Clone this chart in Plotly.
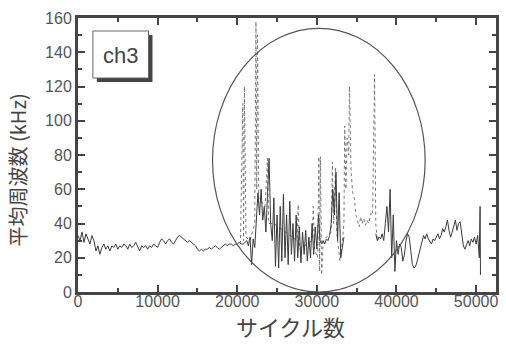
import plotly.graph_objects as go

# ---- data ----
calm_x = list(range(0, 21001, 250))
calm_y = [33, 30, 35, 29, 34, 31, 28, 33, 30,
          24, 27, 22, 26, 28, 25, 27, 24,
          27, 26, 28, 25, 27, 26, 28, 27, 25, 28, 26, 27, 29, 26, 24, 27,
          26, 27, 25, 27, 26, 28, 27, 26,
          29, 31, 30, 28, 30, 31, 29, 28,
          30, 32, 33, 32, 31, 30, 29, 30,
          29, 28, 27, 25, 24, 25, 24, 25,
          25, 26, 25, 26, 27, 26, 25, 26,
          27, 28, 27, 28, 28, 27, 28, 28, 29, 28, 28, 29]

mid_x = [21200, 21400, 21600, 21800, 22000, 22200, 22400, 22600, 22800, 23000,
         23200, 23400, 23600, 23800, 24000, 24200, 24400, 24600, 24800, 25000,
         25200, 25400, 25600, 25800, 26000, 26200, 26400, 26600, 26800, 27000,
         27200, 27400, 27600, 27800, 28000, 28200, 28400, 28600, 28800, 29000,
         29200, 29400, 29600, 29800, 30000, 30200, 30400, 30600, 30800, 31000,
         31200, 31400, 31600, 31800, 32000, 32200, 32400, 32600, 32800, 33000,
         33200, 33400]
mid_y = [30, 27, 32, 16, 31, 26, 40, 58, 45, 60,
         42, 50, 35, 60, 78, 40, 30, 55, 15, 45,
         14, 50, 18, 57, 20, 45, 16, 53, 22, 40,
         18, 45, 20, 38, 17, 35, 22, 36, 18, 32,
         20, 40, 22, 38, 25, 45, 30, 28, 30, 28,
         31, 30, 33, 40, 60, 45, 70, 30, 58, 20,
         25, 32]

late_x = [37400, 37600, 37800, 38000, 38200, 38400, 38600, 38800, 39000, 39200,
          39400, 39600, 39800, 40000, 40200, 40400, 40600, 40800, 41000, 41200,
          41400, 41600, 41800, 42000, 42200, 42400, 42600, 42800, 43000, 43200,
          43400, 43600, 43800, 44000, 44200, 44400, 44600, 44800, 45000, 45200,
          45400, 45600, 45800, 46000, 46200, 46400, 46600, 46800, 47000, 47200,
          47400, 47600, 47800, 48000, 48200, 48400, 48600, 48800, 49000, 49200,
          49400, 49600, 49800, 50000, 50200, 50400, 50500, 50550]
late_y = [34, 30, 32, 31, 34, 30, 40, 50, 35, 60,
          20, 45, 12, 30, 22, 28, 26, 18, 22, 30,
          34, 32, 24, 16, 14, 15, 18, 22, 26, 30,
          33, 31, 34, 31, 29, 28, 31, 30, 32, 34,
          31, 33, 37, 35, 38, 42, 36, 32, 35, 38,
          42, 36, 40, 41, 34, 27, 25, 28, 30, 27,
          31, 29, 32, 28, 33, 20, 50, 10]

dot_x = [20400, 20700, 20800, 20900, 21100, 21600, 22200, 22350, 22450, 22550,
         22700, 23500, 23800, 23950, 24600, 27500, 27650, 27800, 29400, 29550,
         29700, 30100, 30250, 30350, 30450, 30600, 30800, 31800, 31950, 32100,
         32350, 32500, 32900, 33100, 33400, 33500, 33650, 33800, 34000, 34100,
         34300, 34500, 34700, 34900, 35100, 35300, 35500, 35700, 35900, 36100,
         36300, 36500, 36800, 37000, 37250, 37400, 37600, 37800]
dot_y = [28, 110, 30, 120, 32, 30, 40, 158, 60, 150,
         55, 50, 78, 40, 40, 30, 51, 25, 30, 50,
         25, 20, 79, 12, 79, 10, 30, 35, 76, 40,
         73, 35, 18, 25, 40, 97, 60, 90, 80, 120,
         70, 58, 55, 45, 42, 38, 44, 40, 43, 39,
         42, 40, 46, 45, 127, 40, 30, 32]

x_ticks = [0, 10000, 20000, 30000, 40000, 50000]
y_ticks = [0, 20, 40, 60, 80, 100, 120, 140, 160]

solid_x = calm_x + mid_x + [None] + late_x
solid_y = calm_y + mid_y + [None] + late_y

fig = go.Figure()
fig.add_trace(go.Scatter(x=dot_x, y=dot_y, mode="lines",
                         line=dict(color="#777777", width=1, dash="dot"),
                         connectgaps=False, hoverinfo="skip"))
fig.add_trace(go.Scatter(x=solid_x, y=solid_y, mode="lines",
                         line=dict(color="#3a3a3a", width=1),
                         connectgaps=False, hoverinfo="skip"))

L, R, T, B = 78, 7, 18, 54
W, H = 506, 346
pw, ph = W - L - R, H - T - B


def px(xp):
    return (xp - L) / pw


def py(yp):
    return (H - B - yp) / ph


shapes = [
    dict(type="circle", xref="x", yref="y", x0=16900, x1=43600, y0=0, y1=154,
         line=dict(color="#555555", width=1.2)),
    dict(type="rect", xref="paper", yref="paper", x0=px(97), x1=px(153),
         y0=py(82), y1=py(35), fillcolor="#444444", line=dict(width=0)),
    dict(type="rect", xref="paper", yref="paper", x0=px(93), x1=px(149),
         y0=py(78), y1=py(31), fillcolor="white",
         line=dict(color="#666666", width=1)),
]

axis_common = dict(showline=True, linecolor="#444444", linewidth=3,
                   mirror="ticks", ticks="inside", ticklen=7, tickwidth=2,
                   tickcolor="#444444", showgrid=False, zeroline=False,
                   tickfont=dict(family="Liberation Sans, Arial", size=16,
                                 color="#555555"))

fig.update_layout(
    width=W, height=H,
    margin=dict(l=L, r=R, t=T, b=B),
    paper_bgcolor="white", plot_bgcolor="white",
    showlegend=False,
    shapes=shapes,
    xaxis=dict(range=[0, 52500], tickvals=x_ticks,
               ticktext=[str(v) for v in x_ticks],
               ticklabelstandoff=-7,
               minor=dict(dtick=5000, ticks="inside", ticklen=4,
                          tickwidth=2, tickcolor="#444444"),
               **axis_common),
    yaxis=dict(range=[0, 160], tickvals=y_ticks,
               ticktext=[str(v) for v in y_ticks],
               minor=dict(dtick=10, ticks="inside", ticklen=4,
                          tickwidth=2, tickcolor="#444444"),
               **axis_common),
    annotations=[
        dict(text="ch3", xref="paper", yref="paper",
             x=px(121), y=py(55), xanchor="center", yanchor="middle",
             showarrow=False,
             font=dict(family="Liberation Sans, Arial", size=22,
                       color="#444444")),
        dict(text="サイクル数", xref="paper", yref="paper",
             x=px(292), y=py(326), xanchor="center", yanchor="middle",
             showarrow=False,
             font=dict(family="Noto Sans CJK JP", size=22, color="#444444")),
        dict(text="平均周波数 (kHz)", xref="paper", yref="paper",
             x=px(17), y=py(170), xanchor="center", yanchor="middle",
             textangle=-90, showarrow=False,
             font=dict(family="Noto Sans CJK JP", size=20, color="#444444")),
    ],
)

fig.write_html("out.html")
